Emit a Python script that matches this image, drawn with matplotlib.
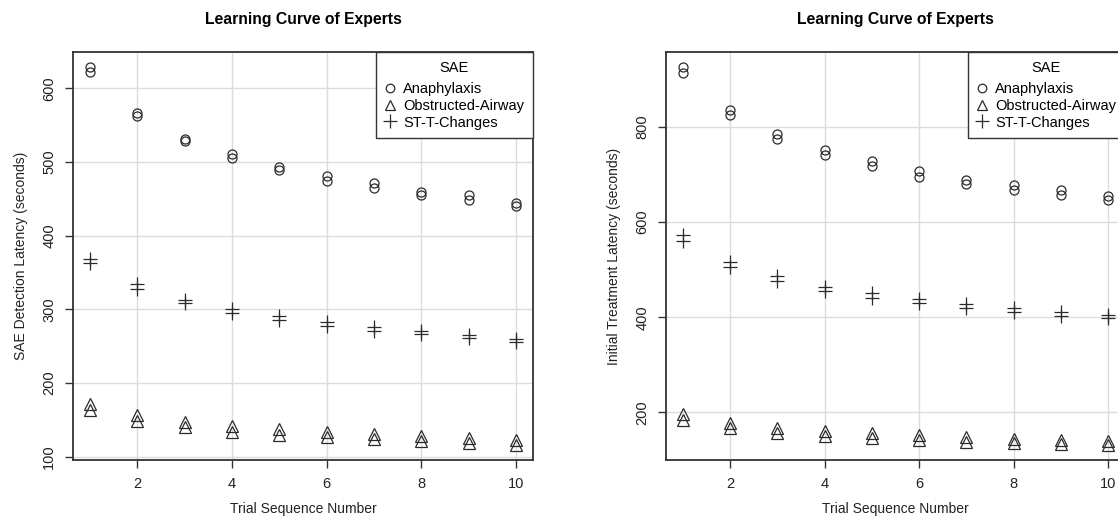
import numpy as np
import matplotlib
matplotlib.use('Agg')
import matplotlib.pyplot as plt
from matplotlib.lines import Line2D

plt.rcParams['font.family'] = ['Liberation Sans', 'DejaVu Sans']

trials = [1, 2, 3, 4, 5, 6, 7, 8, 9, 10]
series_names = ['Anaphylaxis', 'Obstructed-Airway', 'ST-T-Changes']

# SAE detection latency, two estimates per trial
det_anaph_a = [629, 567, 532, 511, 494, 481, 471, 460, 455, 445]
det_anaph_b = [622, 562, 528, 506, 489, 475, 465, 455, 449, 440]
det_airway_a = [172, 156, 147, 141, 137, 134, 131, 128, 125, 123]
det_airway_b = [164, 149, 140, 134, 130, 127, 124, 121, 119, 116]
det_stt_a = [369, 334, 313, 300, 291, 283, 276, 270, 265, 260]
det_stt_b = [363, 328, 308, 295, 286, 278, 271, 266, 261, 256]
det_yticks = [100, 200, 300, 400, 500, 600]

# initial treatment latency, two estimates per trial
trt_anaph_a = [925, 834, 785, 752, 728, 706, 689, 678, 666, 655]
trt_anaph_b = [913, 824, 774, 741, 718, 695, 679, 668, 656, 646]
trt_airway_a = [196, 177, 168, 161, 156, 152, 148, 145, 142, 140]
trt_airway_b = [185, 167, 158, 151, 146, 143, 139, 136, 134, 132]
trt_stt_a = [572, 515, 487, 464, 451, 438, 428, 420, 411, 404]
trt_stt_b = [561, 505, 476, 454, 441, 429, 419, 410, 403, 398]
trt_yticks = [200, 400, 600, 800]

xticks = [2, 4, 6, 8, 10]

markers = {'Anaphylaxis': ('o', 6.5, 'none'),
           'Obstructed-Airway': ('^', 8, 'none'),
           'ST-T-Changes': ('+', 10, None)}
col = '#2b2b2b'

W, H = 1118, 523
fig = plt.figure(figsize=(W / 100, H / 100), dpi=100)

panels = [
    ([73, 533], 'SAE Detection Latency (seconds)', det_yticks,
     {'Anaphylaxis': (det_anaph_a, det_anaph_b),
      'Obstructed-Airway': (det_airway_a, det_airway_b),
      'ST-T-Changes': (det_stt_a, det_stt_b)}),
    ([666, 1125], 'Initial Treatment Latency (seconds)', trt_yticks,
     {'Anaphylaxis': (trt_anaph_a, trt_anaph_b),
      'Obstructed-Airway': (trt_airway_a, trt_airway_b),
      'ST-T-Changes': (trt_stt_a, trt_stt_b)}),
]

top_px, bot_px = 52, 460
for (x0, x1), ylab, yticks, data in panels:
    ax = fig.add_axes([x0 / W, 1 - bot_px / H, (x1 - x0) / W, (bot_px - top_px) / H])
    allv = []
    for name in series_names:
        m, ms, fc = markers[name]
        for vals in data[name]:
            allv += list(vals)
            if fc is None:
                ax.plot(trials, vals, linestyle='none', marker=m, markersize=ms,
                        color=col, markeredgewidth=0.9)
            else:
                ax.plot(trials, vals, linestyle='none', marker=m, markersize=ms,
                        markerfacecolor='none', markeredgecolor=col, markeredgewidth=0.9)
    lo, hi = min(allv), max(allv)
    pad = 0.04 * (hi - lo)
    ax.set_ylim(lo - pad, hi + pad)
    ax.set_xlim(1 - 0.04 * 9, 10 + 0.04 * 9)
    ax.set_xticks(xticks)
    ax.set_yticks(yticks)
    ax.grid(True, color='#dcdcdc', linewidth=1)
    ax.set_axisbelow(True)
    for s in ax.spines.values():
        s.set_color('#333333')
        s.set_linewidth(1.3)
    ax.tick_params(direction='out', length=6, width=1, color='#333333',
                   labelsize=10.5, labelcolor='#222222', pad=6)
    for lab in ax.get_yticklabels():
        lab.set_rotation(90)
        lab.set_va('center')
    ax.set_title('Learning Curve of Experts', fontsize=11.3, fontweight='bold', pad=20)
    ax.set_xlabel('Trial Sequence Number', fontsize=10, labelpad=8, color='#222222')
    ax.set_ylabel(ylab, fontsize=10, labelpad=10, color='#222222')

    handles = []
    for name in series_names:
        m, ms, fc = markers[name]
        handles.append(Line2D([], [], linestyle='none', marker=m,
                              markersize=ms * 0.95,
                              markerfacecolor='none' if fc else col,
                              markeredgecolor=col, color=col, markeredgewidth=0.9))
    leg = ax.legend(handles, series_names, title='SAE', loc='upper right',
                    fancybox=False, framealpha=1, edgecolor='#333333',
                    borderaxespad=0, fontsize=10.5, title_fontsize=10.5,
                    handlelength=0.8, handletextpad=0.5, labelspacing=0.2,
                    borderpad=0.6)
    leg.get_frame().set_linewidth(1.0)
    leg._legend_box.sep = 5

fig.savefig('out.png', dpi=100)
